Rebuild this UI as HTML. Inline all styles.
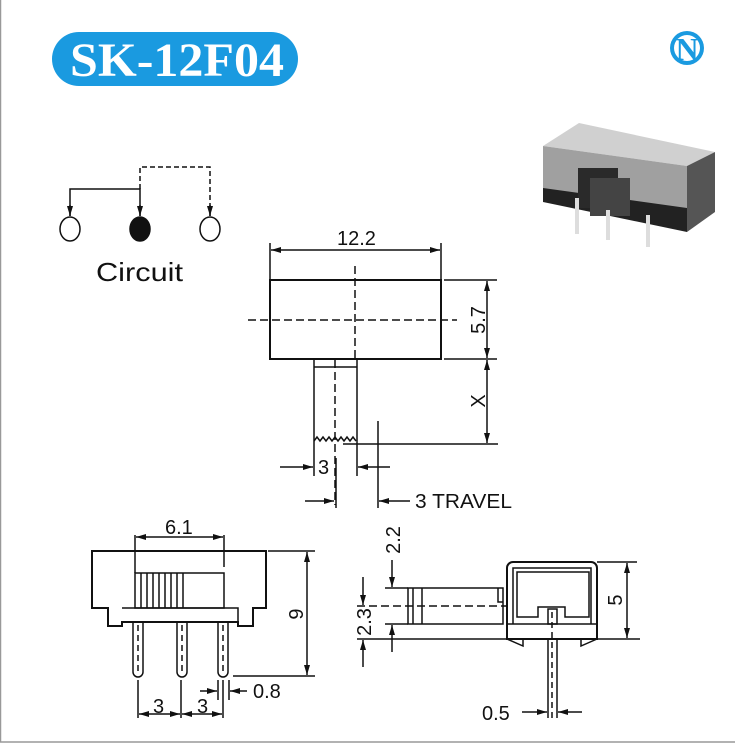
<!DOCTYPE html>
<html><head><meta charset="utf-8"><style>
html,body{margin:0;padding:0;background:#fff;}
svg{display:block;font-family:"Liberation Sans",sans-serif;}
</style></head><body>
<svg width="735" height="744" viewBox="0 0 735 744" xmlns="http://www.w3.org/2000/svg">
<defs>
<marker id="a" viewBox="0 0 10 6" refX="10" refY="3" markerWidth="10" markerHeight="6" markerUnits="userSpaceOnUse" orient="auto"><path d="M0,0 L10,3 L0,6 z" fill="#111"/></marker>
</defs>
<rect x="0.5" y="-1" width="740" height="743" fill="none" stroke="#999" stroke-width="1.5"/>
<!-- title -->
<rect x="52" y="32" width="246" height="54" rx="27" fill="#1a9ae0"/>
<text x="177" y="76" text-anchor="middle" font-family="Liberation Serif,serif" font-weight="bold" font-size="48" fill="#fff" textLength="214" lengthAdjust="spacingAndGlyphs">SK-12F04</text>
<!-- N logo -->
<circle cx="687" cy="48" r="17" fill="#1a9ae0"/>
<circle cx="687" cy="48" r="13" fill="#fff"/>
<text x="687" y="60" text-anchor="middle" font-family="Liberation Serif,serif" font-weight="bold" font-size="32" fill="#1a9ae0">N</text>
<!-- photo -->
<polygon points="543,146 579,123 715,152 687,166" fill="#d0d0d0"/>
<polygon points="543,146 687,166 687,230 543,198" fill="#a0a0a0"/>
<polygon points="687,166 715,152 715,212 687,232" fill="#555"/>
<polygon points="543,188 687,208 687,232 543,202" fill="#222"/>
<rect x="578" y="168" width="40" height="40" fill="#2a2a2a"/>
<rect x="590" y="178" width="40" height="38" fill="#444"/>
<rect x="575" y="198" width="4" height="36" fill="#ddd"/><rect x="606" y="210" width="4" height="30" fill="#ddd"/><rect x="646" y="215" width="4" height="32" fill="#ddd"/>
<g stroke="#111" stroke-width="1.5" fill="none">
<!-- circuit -->
<ellipse cx="70" cy="229" rx="10" ry="12" fill="#fff"/>
<ellipse cx="140" cy="229" rx="10" ry="12" fill="#111"/>
<ellipse cx="210" cy="229" rx="10" ry="12" fill="#fff"/>
<path d="M70,216 V189 H140 V216"/>
<line x1="70" y1="205" x2="70" y2="216" marker-end="url(#a)"/>
<line x1="140" y1="205" x2="140" y2="216" marker-end="url(#a)"/>
<path d="M140,189 V167 H210 V216" stroke-dasharray="5,3"/>
<line x1="210" y1="205" x2="210" y2="216" marker-end="url(#a)"/>
<!-- top view -->
<rect x="270" y="280" width="171" height="79" stroke-width="2"/>
<line x1="270" y1="243" x2="270" y2="280"/><line x1="441" y1="243" x2="441" y2="280"/>
<line x1="300" y1="250" x2="271" y2="250" marker-end="url(#a)"/><line x1="300" y1="250" x2="440" y2="250" marker-end="url(#a)"/>
<line x1="355" y1="266" x2="355" y2="360" stroke-dasharray="8,4"/>
<line x1="248" y1="320" x2="457" y2="320" stroke-dasharray="8,4"/>
<line x1="444" y1="280" x2="497" y2="280"/><line x1="444" y1="359" x2="497" y2="359"/>
<line x1="487" y1="320" x2="487" y2="281" marker-end="url(#a)"/><line x1="487" y1="320" x2="487" y2="358" marker-end="url(#a)"/>
<path d="M314,441 V359 H357 V441"/><line x1="314" y1="367" x2="357" y2="367"/>
<path d="M314,441 l3,-4 3,4 3,-4 3,4 3,-4 3,4 3,-4 3,4 3,-4 3,4 3,-4 3,4 3,-4 3,4"/>
<line x1="335" y1="360" x2="335" y2="505" stroke-dasharray="8,4"/>
<line x1="343" y1="444" x2="498" y2="444"/>
<line x1="487" y1="400" x2="487" y2="360" marker-end="url(#a)"/><line x1="487" y1="400" x2="487" y2="443" marker-end="url(#a)"/>
<line x1="314" y1="441" x2="314" y2="476"/><line x1="357" y1="441" x2="357" y2="476"/>
<line x1="378" y1="421" x2="378" y2="508"/><line x1="336" y1="458" x2="336" y2="508"/>
<line x1="280" y1="467" x2="313" y2="467" marker-end="url(#a)"/>
<line x1="390" y1="467" x2="358" y2="467" marker-end="url(#a)"/>
<line x1="305" y1="501" x2="334" y2="501" marker-end="url(#a)"/>
<line x1="410" y1="501" x2="379" y2="501" marker-end="url(#a)"/>
<!-- bottom left -->
<path d="M92,551 H266 V608 H253 V626 H238 V622 H122 V626 H108 V608 H92 Z" stroke-width="2"/>
<path d="M122,608 H238 V622" />
<rect x="135" y="573" width="89" height="35"/>
<path d="M141,573V608M147,573V608M153,573V608M159,573V608M165,573V608M171,573V608M177,573V608M183,573V608"/>
<line x1="135" y1="535" x2="135" y2="573"/><line x1="224" y1="535" x2="224" y2="567"/>
<line x1="180" y1="537" x2="136" y2="537" marker-end="url(#a)"/><line x1="180" y1="537" x2="223" y2="537" marker-end="url(#a)"/>
<path d="M133,622 V672 a5,5 0 0 0 10,0 V622"/>
<path d="M177,622 V672 a5,5 0 0 0 10,0 V622"/>
<path d="M218,622 V672 a5,5 0 0 0 10,0 V622"/>
<path d="M138,625V675M182,625V675M223,625V675" stroke-dasharray="6,4"/>
<line x1="268" y1="551" x2="315" y2="551"/><line x1="233" y1="676" x2="315" y2="676"/>
<line x1="307" y1="614" x2="307" y2="552" marker-end="url(#a)"/><line x1="307" y1="614" x2="307" y2="675" marker-end="url(#a)"/>
<line x1="138" y1="680" x2="138" y2="718"/><line x1="181" y1="680" x2="181" y2="718"/><line x1="223" y1="680" x2="223" y2="718"/>
<line x1="159" y1="714" x2="139" y2="714" marker-end="url(#a)"/><line x1="159" y1="714" x2="180" y2="714" marker-end="url(#a)"/>
<line x1="202" y1="714" x2="182" y2="714" marker-end="url(#a)"/><line x1="202" y1="714" x2="222" y2="714" marker-end="url(#a)"/>
<line x1="218" y1="680" x2="218" y2="700"/><line x1="229" y1="680" x2="229" y2="700"/>
<line x1="200" y1="691" x2="217" y2="691" marker-end="url(#a)"/>
<line x1="247" y1="691" x2="230" y2="691" marker-end="url(#a)"/>
<!-- bottom right -->
<path d="M507,639 V568 a6,6 0 0 1 6,-6 H591 a6,6 0 0 1 6,6 V639 Z" stroke-width="2"/>
<line x1="507" y1="624" x2="597" y2="624"/>
<path d="M513,624 V568 H591 V624"/>
<path d="M517,617 V572 H589 V617 H565 V607 H538 V617 Z"/>
<rect x="548" y="609" width="9" height="15"/>
<path d="M507,639 L523,646 V639 M597,639 L581,646 V639"/>
<rect x="408" y="588" width="95" height="36"/>
<line x1="413" y1="588" x2="413" y2="624"/><line x1="422" y1="588" x2="422" y2="624"/>
<path d="M498,588 V602 H503"/>
<line x1="357" y1="606" x2="507" y2="606" stroke-dasharray="8,4"/>
<line x1="385" y1="588" x2="408" y2="588"/><line x1="385" y1="624" x2="408" y2="624"/>
<line x1="357" y1="639" x2="640" y2="639"/><line x1="597" y1="562" x2="637" y2="562"/>
<line x1="392" y1="560" x2="392" y2="587" marker-end="url(#a)"/>
<line x1="392" y1="652" x2="392" y2="625" marker-end="url(#a)"/>
<line x1="363" y1="577" x2="363" y2="605" marker-end="url(#a)"/>
<line x1="363" y1="667" x2="363" y2="640" marker-end="url(#a)"/>
<line x1="627" y1="600" x2="627" y2="563" marker-end="url(#a)"/><line x1="627" y1="600" x2="627" y2="638" marker-end="url(#a)"/>
<path d="M548,639 V718 M557,639 V718"/>
<line x1="552" y1="612" x2="552" y2="722" stroke-dasharray="6,4"/>
<line x1="522" y1="712" x2="547" y2="712" marker-end="url(#a)"/>
<line x1="582" y1="712" x2="558" y2="712" marker-end="url(#a)"/>
</g>
<g fill="#111" font-size="20">
<text x="96" y="281" font-size="26" textLength="87" lengthAdjust="spacingAndGlyphs">Circuit</text>
<text x="337" y="245">12.2</text>
<text x="485" y="320" transform="rotate(-90 485 320)" text-anchor="middle">5.7</text>
<text x="485" y="401" transform="rotate(-90 485 401)" text-anchor="middle">X</text>
<text x="318" y="474">3</text>
<text x="415" y="508" textLength="97" lengthAdjust="spacingAndGlyphs">3 TRAVEL</text>
<text x="165" y="534">6.1</text>
<text x="303" y="614" transform="rotate(-90 303 614)" text-anchor="middle">9</text>
<text x="153" y="713">3</text>
<text x="197" y="713">3</text>
<text x="253" y="698">0.8</text>
<text x="400" y="540" transform="rotate(-90 400 540)" text-anchor="middle">2.2</text>
<text x="371" y="622" transform="rotate(-90 371 622)" text-anchor="middle">2.3</text>
<text x="622" y="600" transform="rotate(-90 622 600)" text-anchor="middle">5</text>
<text x="482" y="720">0.5</text>
</g>
</svg>
</body></html>
